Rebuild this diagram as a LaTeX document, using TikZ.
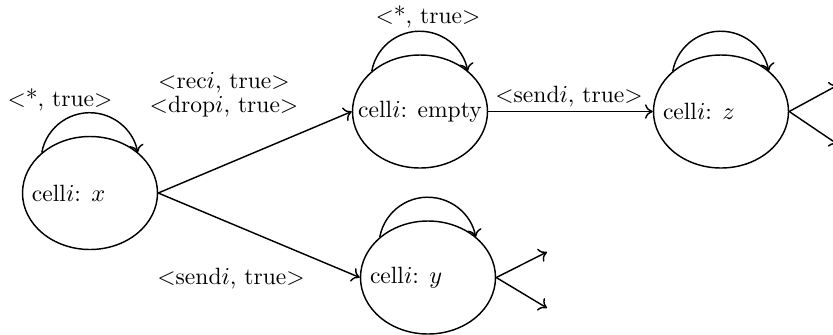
\documentclass[tikz,border=0pt]{standalone}
\usetikzlibrary{arrows.meta,shapes.geometric}
\newcommand\celltxt[1]{\makebox[0pt][l]{\hspace*{-26.1pt}#1}}
\begin{document}
\begin{tikzpicture}[x=0.45pt,y=-0.45pt,line width=0.65pt,
  font=\fontsize{10.6}{10.8}\selectfont,
  state/.style={draw,ellipse,minimum width=60.75pt,minimum height=50.85pt,inner sep=0pt},
  lbl/.style={inner sep=0pt,align=center},
  arr/.style={-{To[length=3.5pt,width=6.5pt]}}]
\clip (0,0) rectangle (833,334);
\node[state] (x) at (90,193) {\celltxt{cell$i$: $x$}};
\node[state] (empty) at (420,111.5) {\makebox[0pt]{cell$i$: empty}};
\node[state] (z) at (721,111.5) {\celltxt{cell$i$: $z$}};
\node[state] (y) at (428,277.5) {\celltxt{cell$i$: $y$}};
% self loops
\draw[arr] (x.140) arc[start angle=-169.4,end angle=-10.6,radius=48.8];
\draw[arr] (empty.140) arc[start angle=-169.4,end angle=-10.6,radius=48.8];
\draw[arr] (z.140) arc[start angle=-169.4,end angle=-10.6,radius=48.8];
\draw[arr] (y.140) arc[start angle=-169.4,end angle=-10.6,radius=48.8];
% transitions
\draw[arr] (x.east) -- (empty.west);
\draw[arr] (x.east) -- (y.west);
\draw[arr] (empty.east) -- (z.west);
\coordinate (zo1) at (838,85);
\coordinate (zo2) at (838,144.5);
\coordinate (yo1) at (547,252);
\coordinate (yo2) at (547,308);
\draw[arr] (z.east) -- (zo1);
\draw[arr] (z.east) -- (zo2);
\draw[arr] (y.east) -- (yo1);
\draw[arr] (y.east) -- (yo2);
% labels
\node[lbl] (lx) at (60,100) {<*, true>};
\node[lbl] (le) at (428,17) {<*, true>};
\node[lbl] (lrd) at (224,95) {<rec$i$, true>\\<drop$i$, true>};
\node[lbl] (ls1) at (569,97) {<send$i$, true>};
\node[lbl] (ls2) at (231,279) {<send$i$, true>};
\end{tikzpicture}
\end{document}
